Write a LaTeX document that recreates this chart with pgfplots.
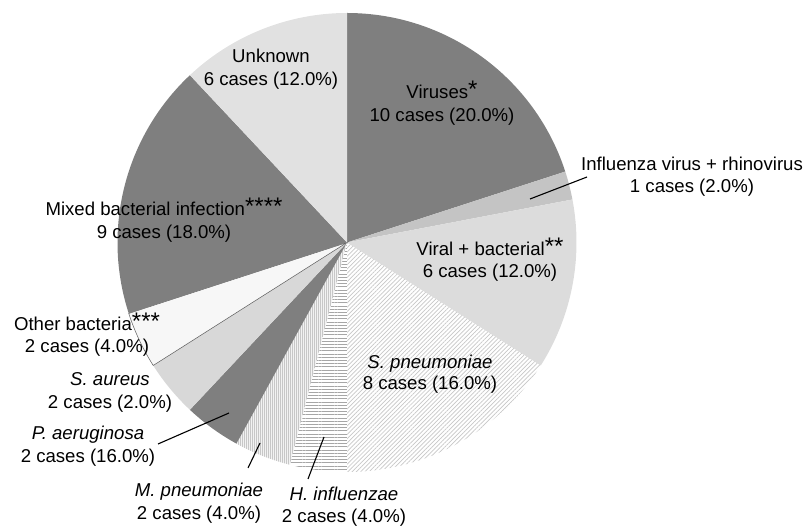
\documentclass[border=0pt]{standalone}
\usepackage{pgfplots}
\pgfplotsset{compat=1.18}
\usepackage{pgfplotstable}
\usetikzlibrary{patterns.meta}
\usepackage{fontspec}
\setmainfont{Liberation Sans}

\definecolor{cDark}{HTML}{7F7F7F}
\definecolor{cInf}{HTML}{C4C4C4}
\definecolor{cVB}{HTML}{DCDCDC}
\definecolor{cUnk}{HTML}{E1E1E1}
\definecolor{cSA}{HTML}{D8D8D8}
\definecolor{cOB}{HTML}{F7F7F7}

\tikzset{
  sV/.style={fill=cDark},
  sI/.style={fill=cInf},
  sVB/.style={fill=cVB},
  sSP/.style={pattern={Lines[angle=45,distance=3bp,line width=0.7bp]},pattern color=black!22},
  sHI/.style={preaction={fill=white},pattern={Lines[angle=0,distance=3.2bp,line width=1bp]},pattern color=black!35},
  sMP/.style={preaction={fill=black!5},pattern={Lines[angle=90,distance=2bp,line width=0.5bp]},pattern color=black!22},
  sPA/.style={fill=cDark},
  sSA/.style={fill=cSA},
  sOB/.style={fill=cOB,draw=black!65,line width=0.5bp},
  sMB/.style={fill=cDark},
  sUN/.style={fill=cUnk},
}

\newcommand\lbl{\fontsize{18.6bp}{22bp}\selectfont}
\newcommand\st[1]{{\fontsize{24bp}{24bp}\selectfont\raisebox{1bp}{#1}}}

% share of each cause (percent), clockwise from 12 o'clock
\pgfplotstableread{
pct style
20 sV
2  sI
12 sVB
16 sSP
4  sHI
4  sMP
4  sPA
4  sSA
4  sOB
18 sMB
12 sUN
}\pietable

\begin{document}
\begin{tikzpicture}
\begin{axis}[
  width=806bp, height=527bp, scale only axis,
  xmin=0, xmax=806, ymin=0, ymax=527,
  hide axis, clip=false,
]
\xdef\angA{90}
\foreach \i in {0,...,10}{
  \pgfplotstablegetelem{\i}{pct}\of\pietable
  \let\p\pgfplotsretval
  \pgfplotstablegetelem{\i}{style}\of\pietable
  \let\s\pgfplotsretval
  \pgfmathsetmacro\angB{\angA-3.6*\p}
  \edef\doit{\noexpand\path[\s] (axis cs:347,284.5) -- ++(\angA:229.5bp)
     arc[start angle=\angA, end angle=\angB, radius=229.5bp] -- cycle;}
  \doit
  \xdef\angA{\angB}
}
% leader lines
\draw[line width=1.1bp] (axis cs:530,328) -- (axis cs:587,350);
\draw[line width=1.1bp] (axis cs:324,90) -- (axis cs:308,48);
\draw[line width=1.1bp] (axis cs:260,84) -- (axis cs:248,59);
\draw[line width=1.1bp] (axis cs:229,114) -- (axis cs:158,83);

\tikzset{every node/.style={inner sep=0pt, anchor=base, font=\lbl}}
\node at (axis cs:442,428) {Viruses\st{*}};
\node at (axis cs:442,405) {10 cases (20.0\%)};
\node at (axis cs:692,356) {Influenza virus + rhinovirus};
\node at (axis cs:692,334) {1 cases (2.0\%)};
\node at (axis cs:490,271) {Viral + bacterial\st{**}};
\node at (axis cs:490,249) {6 cases (12.0\%)};
\node at (axis cs:430,158) {\textit{S. pneumoniae}};
\node at (axis cs:430,137) {8 cases (16.0\%)};
\node at (axis cs:344,26.5) {\textit{H. influenzae}};
\node at (axis cs:344,4.5) {2 cases (4.0\%)};
\node at (axis cs:199,31) {\textit{M. pneumoniae}};
\node at (axis cs:199,8) {2 cases (4.0\%)};
\node at (axis cs:88,87) {\textit{P. aeruginosa}};
\node at (axis cs:88,64) {2 cases (16.0\%)};
\node at (axis cs:110,141) {\textit{S. aureus}};
\node at (axis cs:110,118) {2 cases (2.0\%)};
\node at (axis cs:87,196) {Other bacteria\st{***}};
\node at (axis cs:87,174) {2 cases (4.0\%)};
\node at (axis cs:164,311) {Mixed bacterial infection\st{****}};
\node at (axis cs:164,288) {9 cases (18.0\%)};
\node at (axis cs:271,464) {Unknown};
\node at (axis cs:271,441) {6 cases (12.0\%)};
\end{axis}
\pgfresetboundingbox
\useasboundingbox (0,0) rectangle (806bp,527bp);
\end{tikzpicture}
\end{document}
